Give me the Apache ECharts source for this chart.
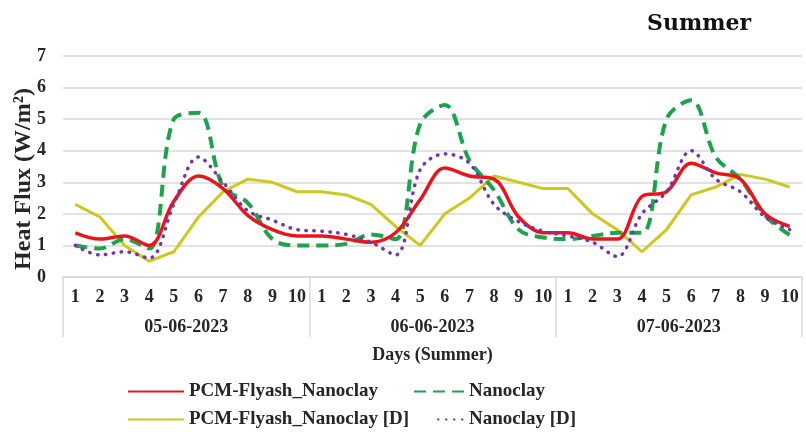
<!DOCTYPE html>
<html>
<head>
<meta charset="utf-8">
<script src="https://cdn.jsdelivr.net/npm/echarts@6/dist/echarts.min.js"></script>
<style>html,body{margin:0;padding:0;background:#fff;}#c{width:806px;height:432px;}</style>
</head>
<body>
<div id="c"></div>
<script>
// ---- data ----
var days = ['05-06-2023', '06-06-2023', '07-06-2023'];
var hours = ['1', '2', '3', '4', '5', '6', '7', '8', '9', '10'];
var yTicks = [0, 1, 2, 3, 4, 5, 6, 7];
var seriesNames = ['PCM-Flyash_Nanoclay', 'Nanoclay', 'PCM-Flyash_Nanoclay [D]', 'Nanoclay [D]'];
var pcmFlyash = [1.4, 1.2, 1.3, 1.0, 2.4, 3.2, 2.8, 1.95, 1.5, 1.3,
                 1.3, 1.2, 1.1, 1.4, 2.45, 3.45, 3.2, 3.1, 1.9, 1.4,
                 1.4, 1.2, 1.2, 2.55, 2.7, 3.6, 3.3, 3.1, 2.0, 1.6];
var nanoclay = [1.0, 0.9, 1.2, 0.9, 5.0, 5.2, 2.85, 2.35, 1.2, 1.0,
                1.0, 1.05, 1.35, 1.2, 4.85, 5.45, 3.7, 2.75, 1.5, 1.25,
                1.2, 1.3, 1.4, 1.4, 5.0, 5.6, 3.8, 3.1, 1.95, 1.33];
var pcmFlyashD = [2.3, 1.9, 1.0, 0.5, 0.8, 1.9, 2.7, 3.1, 3.0, 2.7,
                  2.7, 2.6, 2.3, 1.6, 1.0, 2.0, 2.5, 3.2, 3.0, 2.8,
                  2.8, 2.0, 1.5, 0.8, 1.5, 2.6, 2.85, 3.25, 3.1, 2.85];
var nanoclayD = [1.0, 0.7, 0.8, 0.6, 2.3, 3.8, 3.0, 2.1, 1.8, 1.5,
                 1.45, 1.35, 1.1, 0.7, 3.4, 3.9, 3.6, 2.3, 1.75, 1.45,
                 1.3, 1.1, 0.65, 2.0, 2.7, 4.0, 3.1, 2.7, 1.9, 1.5];

// ---- build ----
var categories = [];
days.forEach(function (d) { hours.forEach(function (h) { categories.push(d + '|' + h); }); });

var FONT = 'Liberation Serif';
var TXT = '#262626';
var GRID = '#d9d9d9';
var txt = function (size) { return { fontFamily: FONT, fontWeight: 'bold', fontSize: size, color: TXT }; };

var chart = echarts.init(document.getElementById('c'), null, { renderer: 'canvas' });
function legendAt(name, left, top, w) {
  return {
    data: [name], left: left, top: top, itemWidth: w, itemHeight: 14, itemGap: 0,
    padding: 0, textStyle: txt(19), selectedMode: false,
    itemStyle: { opacity: 0 }
  };
}
chart.setOption({
  animation: false,
  backgroundColor: '#fff',
  title: { text: 'Summer', left: 642, top: 8, textStyle: { fontFamily: 'DejaVu Serif', fontWeight: 'bold', fontSize: 22, color: '#111' } },
  grid: { left: 63, right: 4, top: 56, bottom: 155 },
  legend: [
    legendAt(seriesNames[0], 127, 382, 56),
    legendAt(seriesNames[1], 413, 382, 50),
    legendAt(seriesNames[2], 127, 410, 56),
    legendAt(seriesNames[3], 437, 410, 26)
  ],
  graphic: [{
    type: 'text', x: 24, y: 179, rotation: Math.PI / 2,
    style: { text: 'Heat Flux (W/m²)', fontFamily: FONT, fontWeight: 'bold', fontSize: 24, fill: TXT,
             align: 'center', verticalAlign: 'middle' }
  }],
  xAxis: [
    {
      type: 'category', data: categories, boundaryGap: true, position: 'bottom',
      axisLine: { show: true, lineStyle: { color: GRID, width: 1.5 } },
      axisTick: { show: false },
      axisLabel: Object.assign({ interval: 0, margin: 11, formatter: function (v) { return v.split('|')[1]; } }, txt(18)),
      splitLine: { show: false }
    },
    {
      type: 'category', data: days, boundaryGap: true, position: 'bottom', gridIndex: 0,
      axisLine: { show: false },
      axisTick: { show: true, length: 60, lineStyle: { color: GRID, width: 1.5 } },
      axisLabel: Object.assign({ interval: 0, margin: 41 }, txt(18)),
      name: 'Days (Summer)', nameLocation: 'middle', nameGap: 69, nameTextStyle: txt(18),
      splitLine: { show: false }
    }
  ],
  yAxis: {
    type: 'value', min: yTicks[0], max: yTicks[yTicks.length - 1], interval: 1,
    axisLine: { show: false }, axisTick: { show: false },
    axisLabel: Object.assign({ margin: 17 }, txt(18)),
    splitLine: { lineStyle: { color: GRID, width: 1.5 } }
  },
  series: [
    { name: seriesNames[0], type: 'line', data: pcmFlyash, xAxisIndex: 0, symbol: 'none', smooth: 0.35,
      lineStyle: { color: '#E8161C', width: 3.5 }, itemStyle: { color: '#E8161C' }, z: 4 },
    { name: seriesNames[1], type: 'line', data: nanoclay, xAxisIndex: 0, symbol: 'none', smooth: 0.35,
      lineStyle: { color: '#1FA24E', width: 4, type: [12, 7] }, itemStyle: { color: '#1FA24E' }, z: 3 },
    { name: seriesNames[2], type: 'line', data: pcmFlyashD, xAxisIndex: 0, symbol: 'none', smooth: false,
      lineStyle: { color: '#CFC81C', width: 3 }, itemStyle: { color: '#CFC81C' }, z: 2 },
    { name: seriesNames[3], type: 'line', data: nanoclayD, xAxisIndex: 0, symbol: 'none', smooth: 0.35,
      lineStyle: { color: '#7436A8', width: 3.5, type: [0.5, 7.5], cap: 'round' }, itemStyle: { color: '#7436A8' }, z: 5 }
  ]
});
</script>
</body>
</html>
